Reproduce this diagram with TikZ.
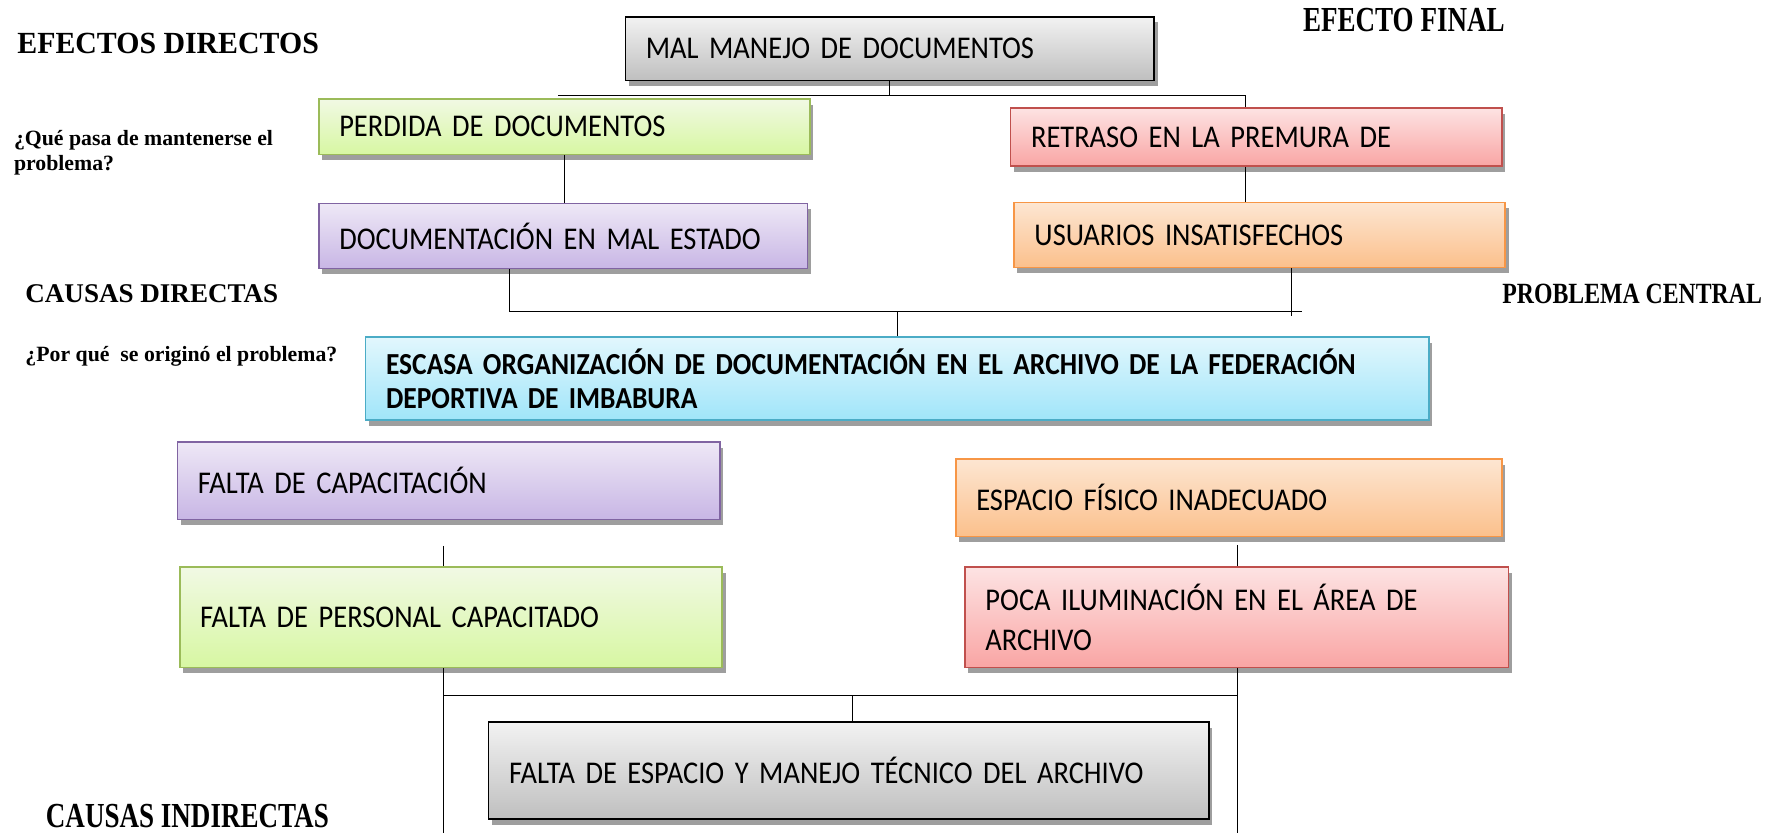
\documentclass[tikz,border=0pt]{standalone}
\usepackage{fontspec}
\setmainfont{Liberation Serif}
\newfontfamily\carlito[FakeStretch=0.9,WordSpace=0.85]{Carlito}
\usepackage{graphicx}
\usepackage{tikz}
\usetikzlibrary{shadows}
\usepackage{xcolor}

\newcommand{\ux}{0.022793cm}

\definecolor{grisborde}{HTML}{000000}
\definecolor{grisarriba}{HTML}{F2F2F2}
\definecolor{grisabajo}{HTML}{BFBFBF}
\definecolor{verdeborde}{HTML}{9BBB59}
\definecolor{verdearriba}{HTML}{F1F9E4}
\definecolor{verdeabajo}{HTML}{D7F7A2}
\definecolor{rojoborde}{HTML}{C0504D}
\definecolor{rojoarriba}{HTML}{FDE3E3}
\definecolor{rojoabajo}{HTML}{F9A5A4}
\definecolor{moradoborde}{HTML}{8064A2}
\definecolor{moradoarriba}{HTML}{EEE8F6}
\definecolor{moradoabajo}{HTML}{C8B6E5}
\definecolor{naranjaborde}{HTML}{F79646}
\definecolor{naranjaarriba}{HTML}{FDE6D2}
\definecolor{naranjaabajo}{HTML}{FBC08C}
\definecolor{celesteborde}{HTML}{4BACC6}
\definecolor{celestearriba}{HTML}{E2F7FD}
\definecolor{celesteabajo}{HTML}{A0E5F9}

\tikzset{
  caja/.style={draw, rectangle, anchor=north west, line width=0.9pt,
    inner xsep=18*\ux, align=left,
    font=\carlito\fontsize{18}{22.6}\selectfont,
    drop shadow={shadow xshift=3*\ux, shadow yshift=-5*\ux, fill=black!38, opacity=1}},
  gris/.style={caja, draw=grisborde, top color=grisarriba, bottom color=grisabajo},
  verde/.style={caja, draw=verdeborde, top color=verdearriba, bottom color=verdeabajo},
  rojo/.style={caja, draw=rojoborde, top color=rojoarriba, bottom color=rojoabajo},
  morado/.style={caja, draw=moradoborde, top color=moradoarriba, bottom color=moradoabajo},
  naranja/.style={caja, draw=naranjaborde, top color=naranjaarriba, bottom color=naranjaabajo},
  celeste/.style={caja, draw=celesteborde, top color=celestearriba, bottom color=celesteabajo},
  titulo/.style={anchor=west, inner sep=0pt, font=\bfseries\fontsize{15.4}{18}\selectfont},
  pregunta/.style={anchor=west, inner sep=0pt, align=left, font=\bfseries\fontsize{12.4}{14.5}\selectfont},
  linea/.style={line width=0.6pt}
}

\begin{document}
\lineskiplimit=-20pt
\begin{tikzpicture}[x=\ux,y=-\ux]
\useasboundingbox (0,0) rectangle (1568,731);

% etiquetas
\node [titulo, font=\bfseries\fontsize{17.5}{20}\selectfont] (efdir) at (15,38) {\scalebox{0.97}[1]{EFECTOS DIRECTOS}};
\node [pregunta] (qpasa) at (12,134) {¿Qué pasa de mantenerse el\\problema?};
\node [titulo] (caudir) at (22,258) {CAUSAS DIRECTAS};
\node [pregunta] (porque) at (22,313) {¿Por qué\ \ se originó el problema?};
\node [titulo, font=\bfseries\fontsize{20}{22}\selectfont] (effin) at (1143,18) {\scalebox{0.77}[1]{EFECTO FINAL}};
\node [titulo, font=\bfseries\fontsize{16.7}{19}\selectfont] (probcen) at (1318,258) {\scalebox{0.81}[1]{PROBLEMA CENTRAL}};
\node [titulo, font=\bfseries\fontsize{20}{22}\selectfont] (cauind) at (40,716) {\scalebox{0.77}[1]{CAUSAS INDIRECTAS}};

% efectos
\node [gris, minimum width=464*\ux, minimum height=56*\ux, text width=428*\ux] (mal) at (548,14) {MAL MANEJO DE DOCUMENTOS};
\node [verde, minimum width=431*\ux, minimum height=49*\ux, text width=395*\ux] (perdida) at (279,86) {PERDIDA DE DOCUMENTOS};
\node [rojo, minimum width=431*\ux, minimum height=51*\ux, text width=395*\ux] (retraso) at (886,94) {RETRASO EN LA PREMURA DE};
\node [morado, minimum width=429*\ux, minimum height=57*\ux, text width=393*\ux] (docu) at (279,178) {DOCUMENTACIÓN EN MAL ESTADO};
\node [naranja, minimum width=431*\ux, minimum height=57*\ux, text width=395*\ux] (usuarios) at (889,177) {USUARIOS INSATISFECHOS};

% problema central
\node [celeste, minimum width=933*\ux, minimum height=73*\ux, text width=897*\ux, font=\carlito\bfseries\fontsize{17.4}{19.4}\selectfont] (escasa) at (320,295) {ESCASA ORGANIZACIÓN DE DOCUMENTACIÓN EN EL ARCHIVO DE LA FEDERACIÓN\\DEPORTIVA DE IMBABURA};

% causas
\node [morado, minimum width=476*\ux, minimum height=68*\ux, text width=440*\ux] (falcap) at (155,387) {FALTA DE CAPACITACIÓN};
\node [naranja, minimum width=479*\ux, minimum height=68*\ux, text width=443*\ux] (espacio) at (838,402) {ESPACIO FÍSICO INADECUADO};
\node [verde, minimum width=476*\ux, minimum height=88*\ux, text width=440*\ux] (falpers) at (157,497) {FALTA DE PERSONAL CAPACITADO};
\node [rojo, minimum width=477*\ux, minimum height=88*\ux, text width=441*\ux] (poca) at (846,497) {POCA ILUMINACIÓN EN EL ÁREA DE\\ARCHIVO};
\node [gris, minimum width=632*\ux, minimum height=85*\ux, text width=596*\ux] (faltaesp) at (428,633) {FALTA DE ESPACIO Y MANEJO TÉCNICO DEL ARCHIVO};

% conectores de arriba
\coordinate (t1) at (490,84);
\coordinate (t2) at (1093,84);
\draw [linea] (mal.south) -- (mal.south |- t1);
\draw [linea] (t1) -- (t2) -- (t2 |- retraso.north);
\draw [linea] (perdida.south) -- (perdida.south |- docu.north);
\draw [linea] (t2 |- retraso.south) -- (t2 |- usuarios.north);

\coordinate (c1) at (447,273);
\coordinate (c2) at (1133,273);
\coordinate (c3) at (1142,273);
\coordinate (c4) at (1133,277);
\draw [linea] (c1 |- docu.south) -- (c1) -- (c3);
\draw [linea] (c2 |- usuarios.south) -- (c4);
\draw [linea] (escasa.north |- c1) -- (escasa.north);

% conectores de abajo
\coordinate (b1) at (389,479);
\coordinate (b2) at (1086,478);
\coordinate (h1) at (389,610);
\coordinate (h2) at (1086,610);
\coordinate (f1) at (389,731);
\coordinate (f2) at (1086,731);
\coordinate (m1) at (748,610);
\draw [linea] (b1) -- (b1 |- falpers.north);
\draw [linea] (b2) -- (b2 |- poca.north);
\draw [linea] (h1 |- falpers.south) -- (f1);
\draw [linea] (h2 |- poca.south) -- (f2);
\draw [linea] (h1) -- (h2);
\draw [linea] (m1) -- (m1 |- faltaesp.north);

\end{tikzpicture}
\end{document}
